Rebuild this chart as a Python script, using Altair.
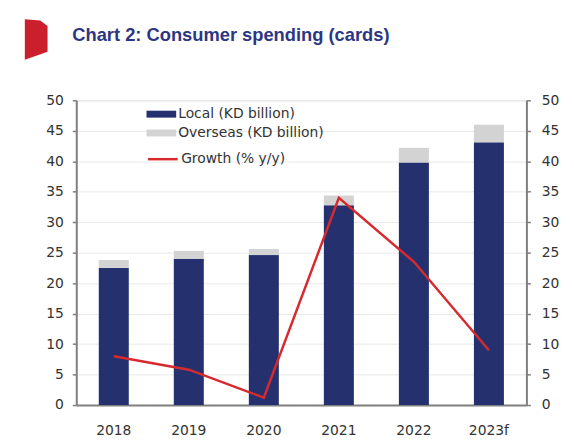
import altair as alt
import pandas as pd

years = ["2018", "2019", "2020", "2021", "2022", "2023f"]
local = [22.5, 24.0, 24.6, 32.8, 39.8, 43.1]
overseas = [1.3, 1.3, 1.0, 1.6, 2.4, 2.9]
growth = [8.0, 5.8, 1.2, 34.0, 23.5, 9.0]

LOCAL = "Local (KD billion)"
OVER = "Overseas (KD billion)"
GROW = "Growth (% y/y)"
TITLE = "Chart 2: Consumer spending (cards)"

bars_df = pd.DataFrame({
    "year": years * 2,
    "series": [LOCAL] * len(years) + [OVER] * len(years),
    "value": local + overseas,
    "ord": [0] * len(years) + [1] * len(years),
})
line_df = pd.DataFrame({"year": years, "series": [GROW] * len(years), "value": growth})

FONT = "DejaVu Sans"
AX = "#7f7f7f"
LBL = "#333333"
FS = 14
ticks = list(range(0, 51, 5))

xenc = alt.X("year:N", sort=years,
             scale=alt.Scale(paddingInner=0.6, paddingOuter=0.3),
             axis=alt.Axis(title=None, labelAngle=0, ticks=False, domainColor=AX, domainWidth=2,
                           labelFontSize=FS, labelColor=LBL, labelFont=FONT, labelPadding=19,
                           grid=False))

bars = alt.Chart(bars_df).mark_bar().encode(
    x=xenc,
    y=alt.Y("value:Q", stack="zero", scale=alt.Scale(domain=[0, 50], nice=False),
            axis=alt.Axis(title=None, values=ticks, grid=True, gridColor="#e9e9e9", gridWidth=1,
                          domainColor=AX, domainWidth=2, tickColor=AX, tickSize=4, tickWidth=1.5,
                          labelFontSize=FS, labelColor=LBL, labelFont=FONT, labelPadding=9,
                          orient="left")),
    fill=alt.Fill("series:N",
                  scale=alt.Scale(domain=[LOCAL, OVER], range=["#25316e", "#d3d3d3"]),
                  legend=alt.Legend(title=None, orient="none", legendX=76, legendY=4, padding=0,
                                    symbolType="M -1.5 -0.35 L 1.5 -0.35 L 1.5 0.35 L -1.5 0.35 Z",
                                    symbolSize=400, symbolStrokeWidth=0, rowPadding=2,
                                    labelOffset=7, labelFontSize=FS, labelColor=LBL, labelFont=FONT)),
    order=alt.Order("ord:Q"),
)

line = alt.Chart(line_df).mark_line(strokeWidth=2.5).encode(
    x=alt.X("year:N", sort=years),
    y=alt.Y("value:Q", scale=alt.Scale(domain=[0, 50], nice=False),
            axis=alt.Axis(title=None, values=ticks, grid=False, orient="right",
                          domainColor=AX, domainWidth=2, tickColor=AX, tickSize=4, tickWidth=1.5,
                          labelFontSize=FS, labelColor=LBL, labelFont=FONT, labelPadding=11)),
    stroke=alt.Stroke("series:N", scale=alt.Scale(domain=[GROW], range=["#d62a2e"]),
                      legend=alt.Legend(title=None, orient="none", legendX=76, legendY=48, padding=0,
                                        symbolType="M -1.5 0 L 1.5 0", symbolSize=400,
                                        symbolStrokeWidth=2.5, symbolFillColor="transparent",
                                        labelOffset=7, labelFontSize=FS, labelColor=LBL,
                                        labelFont=FONT)),
)

deco = pd.DataFrame({"k": [0]})
flag = alt.Chart(deco).mark_point(
    shape="M -0.56 -1 L 0.2 -0.93 L 0.56 -0.66 L 0.56 0.6 L -0.56 1 Z",
    filled=True, color="#cc1f2e", opacity=1, size=1681, strokeWidth=0,
).encode(x=alt.value(-40.5), y=alt.value(-61.5))

title = alt.Chart(deco).mark_text(
    text=TITLE, align="left", baseline="middle", font="Liberation Sans", fontSize=18.5,
    fontWeight="bold", color="#2e3682",
).encode(x=alt.value(-4), y=alt.value(-66))

chart = alt.layer(bars, line, flag, title).resolve_scale(
    y="independent", fill="independent", stroke="independent"
).properties(
    width=455, height=308,
    autosize=alt.AutoSizeParams(type="none"),
    padding={"left": 69, "top": 91, "right": 40, "bottom": 30},
).configure_view(stroke=None).configure(background="white")

chart.save("out.html", embed_options={"renderer": "svg", "actions": False})
